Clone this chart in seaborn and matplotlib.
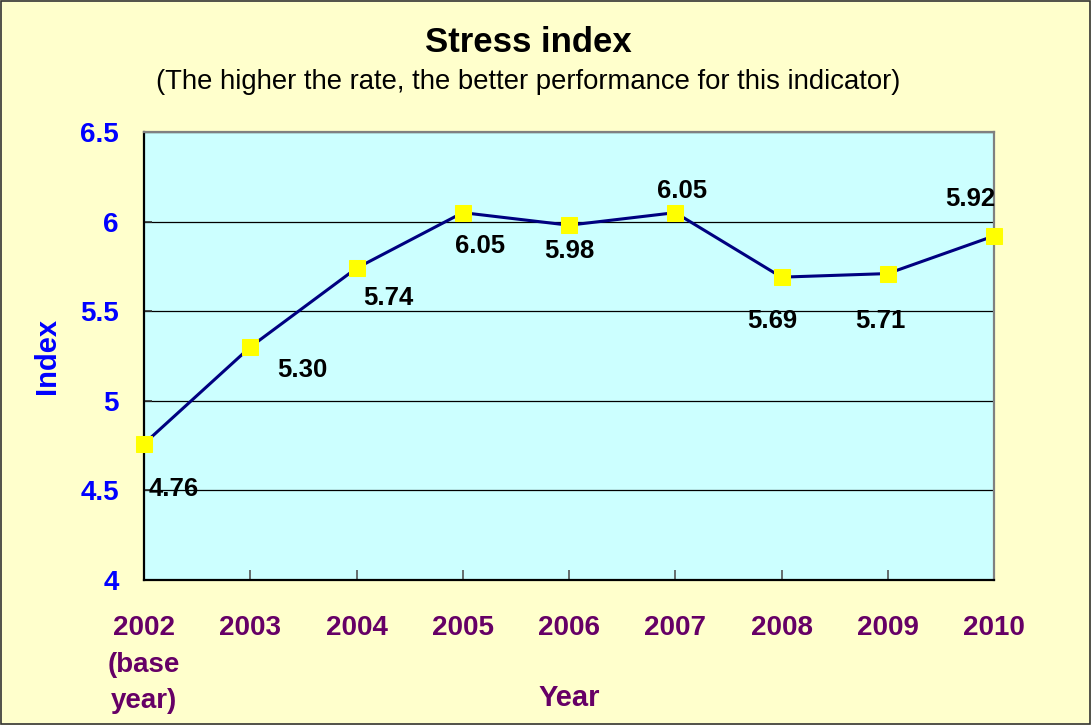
import matplotlib
matplotlib.use("Agg")
import matplotlib.pyplot as plt
import pandas as pd
import seaborn as sns
from matplotlib.patches import Rectangle

sns.set_theme(style="white")
plt.rcParams['font.family'] = ['Liberation Sans', 'DejaVu Sans']

# data
years = ["2002\n(base\nyear)", "2003", "2004", "2005", "2006", "2007", "2008", "2009", "2010"]
stress_index = [4.76, 5.30, 5.74, 6.05, 5.98, 6.05, 5.69, 5.71, 5.92]
y_ticks = [4, 4.5, 5, 5.5, 6, 6.5]
y_tick_labels = ["4", "4.5", "5", "5.5", "6", "6.5"]

# label offsets (pixels) for each value tag
label_offsets = [(30, -45), (52, -23), (32, -30), (17, -33), (0, -26),
                 (7, 22), (-9, -44), (-7, -47), (-24, 37)]

df = pd.DataFrame({"Year": years, "Index": stress_index})

fig = plt.figure(figsize=(10.91, 7.25), dpi=100, facecolor="#FFFFCC")
ax = fig.add_axes([144 / 1091, 1 - 580 / 725, 850 / 1091, 448 / 725])
ax.set_facecolor("#CCFFFF")

sns.lineplot(data=df, x="Year", y="Index", sort=False, ax=ax,
             color="#000080", linewidth=2.2, marker="s", markersize=11.5,
             markerfacecolor="#FFFF00", markeredgecolor="#FFFF00", clip_on=False, zorder=3)

for (yr, v), (dx, dy) in zip(zip(years, stress_index), label_offsets):
    ax.annotate(f"{v:.2f}", xy=(yr, v), xytext=(dx, dy), textcoords="offset pixels",
                ha="center", va="center", fontsize=18.5, fontweight="bold", color="black")

ax.set_xlim(0, len(years) - 1)
ax.set_ylim(4, 6.5)
ax.set_yticks(y_ticks)
ax.set_yticklabels(y_tick_labels)
ax.yaxis.grid(True, color="black", linewidth=0.9)
ax.xaxis.grid(False)
ax.set_axisbelow(True)

ax.tick_params(axis="y", direction="in", length=6, width=1.2, color="#333333",
               labelsize=20, labelcolor="#0000FF", pad=18, left=True)
ax.tick_params(axis="x", direction="in", length=7, width=1.2, color="#555555",
               labelsize=20, labelcolor="#660066", pad=25.5, bottom=True)
for lbl in ax.get_xticklabels() + ax.get_yticklabels():
    lbl.set_fontweight("bold")
for lbl in ax.get_xticklabels():
    lbl.set_linespacing(1.52)

for side in ["left", "bottom"]:
    ax.spines[side].set_color("black")
    ax.spines[side].set_linewidth(1.6)
for side in ["top", "right"]:
    ax.spines[side].set_color("#808080")
    ax.spines[side].set_linewidth(1.6)

ax.set_xlabel("Year", fontsize=21, fontweight="bold", color="#660066", va="center")
ax.xaxis.set_label_coords(0.5, (580 - 698) / 448)
ax.set_ylabel("Index", fontsize=21, fontweight="bold", color="#0000FF", va="center")
ax.yaxis.set_label_coords((47 - 144) / 850, 0.5)

fig.text(528 / 1091, 1 - 42 / 725, "Stress index", ha="center", va="center",
         fontsize=25, fontweight="bold", color="black")
fig.text(528 / 1091, 1 - 82 / 725,
         "(The higher the rate, the better performance for this indicator)",
         ha="center", va="center", fontsize=19.8, color="black")

fig.patches.append(Rectangle((0.001, 0.001), 0.998, 0.997, transform=fig.transFigure,
                             fill=False, edgecolor="#333333", linewidth=1.2))

fig.savefig("out.png", dpi=100, facecolor=fig.get_facecolor())
